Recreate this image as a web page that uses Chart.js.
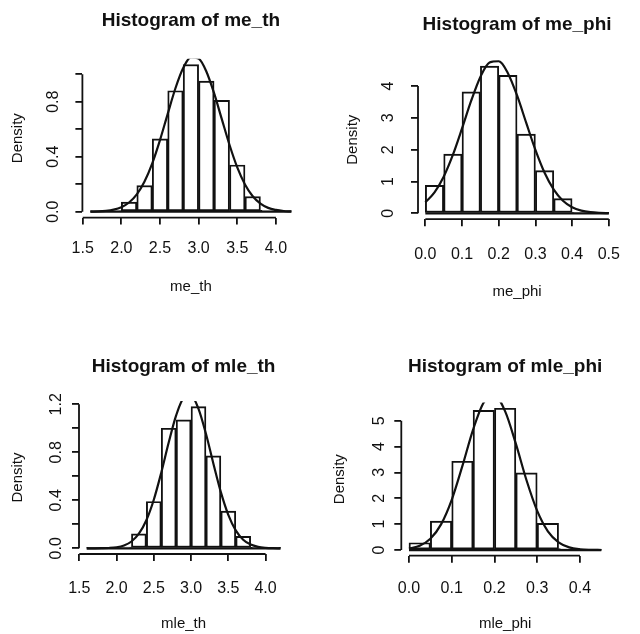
<!DOCTYPE html>
<html><head><meta charset="utf-8">
<script src="https://cdn.jsdelivr.net/npm/chart.js@4.4.1/dist/chart.umd.min.js"></script>
<style>
html,body{margin:0;padding:0;background:#fff;}
#wrap{position:relative;width:640px;height:634px;overflow:hidden;background:#fff;}
.cell{position:absolute;width:320px;height:317px;}
canvas{display:block;}
</style></head><body>
<div id="wrap">
<div class="cell" style="left:0;top:0"><canvas id="c1" width="320" height="317"></canvas></div>
<div class="cell" style="left:320px;top:0"><canvas id="c2" width="320" height="317"></canvas></div>
<div class="cell" style="left:0;top:317px"><canvas id="c3" width="320" height="317"></canvas></div>
<div class="cell" style="left:320px;top:317px"><canvas id="c4" width="320" height="317"></canvas></div>
</div>
<script>
// ---------- data: me_th ----------
const meThEdges   = [1.6,1.8,2.0,2.2,2.4,2.6,2.8,3.0,3.2,3.4,3.6,3.8,4.0,4.2];
const meThDensity = [0.004,0.004,0.07,0.19,0.53,0.88,1.07,0.95,0.81,0.34,0.11,0.01,0.004];
const meThCurveX  = [1.6,1.7,1.8,1.9,2.0,2.1,2.2,2.3,2.4,2.5,2.6,2.7,2.8,2.9,3.0,3.1,3.2,3.3,3.4,3.5,3.6,3.7,3.8,3.9,4.0,4.1,4.2];
const meThCurveY  = [0.001,0.002,0.006,0.015,0.033,0.067,0.126,0.220,0.352,0.521,0.712,0.898,1.045,1.123,1.114,1.020,0.862,0.673,0.485,0.322,0.198,0.112,0.059,0.028,0.013,0.005,0.002];
const meThXTicks  = [1.5,2.0,2.5,3.0,3.5,4.0];
const meThXLabels = ['1.5','2.0','2.5','3.0','3.5','4.0'];
const meThYTicks  = [0,0.2,0.4,0.6,0.8,1.0];
const meThYLabels = ['0.0','','0.4','','0.8',''];

// ---------- data: me_phi ----------
const mePhiEdges   = [0,0.05,0.1,0.15,0.2,0.25,0.3,0.35,0.4,0.45,0.5];
const mePhiDensity = [0.88,1.86,3.82,4.63,4.34,2.49,1.34,0.46,0.03,0.01];
const mePhiCurveX  = [0,0.025,0.05,0.075,0.1,0.125,0.15,0.175,0.2,0.225,0.25,0.275,0.3,0.325,0.35,0.375,0.4,0.425,0.45,0.475,0.5];
const mePhiCurveY  = [0.346,0.661,1.152,1.836,2.669,3.541,4.289,4.742,4.785,4.408,3.706,2.844,1.993,1.274,0.744,0.396,0.193,0.086,0.035,0.013,0.004];
const mePhiXTicks  = [0,0.1,0.2,0.3,0.4,0.5];
const mePhiXLabels = ['0.0','0.1','0.2','0.3','0.4','0.5'];
const mePhiYTicks  = [0,1,2,3,4];
const mePhiYLabels = ['0','1','2','3','4'];

// ---------- data: mle_th ----------
const mleThEdges   = [1.6,1.8,2.0,2.2,2.4,2.6,2.8,3.0,3.2,3.4,3.6,3.8,4.0,4.2];
const mleThDensity = [0.003,0.003,0.01,0.12,0.39,1.00,1.07,1.18,0.77,0.31,0.10,0.005,0.003];
const mleThCurveX  = [1.6,1.7,1.8,1.9,2.0,2.1,2.2,2.3,2.4,2.5,2.6,2.7,2.8,2.9,3.0,3.1,3.2,3.3,3.4,3.5,3.6,3.7,3.8,3.9,4.0,4.1,4.2];
const mleThCurveY  = [0.0001,0.0003,0.001,0.003,0.009,0.024,0.057,0.122,0.234,0.405,0.630,0.881,1.107,1.252,1.272,1.162,0.954,0.705,0.468,0.279,0.150,0.072,0.031,0.012,0.004,0.001,0.0003];
const mleThXTicks  = [1.5,2.0,2.5,3.0,3.5,4.0];
const mleThXLabels = ['1.5','2.0','2.5','3.0','3.5','4.0'];
const mleThYTicks  = [0,0.2,0.4,0.6,0.8,1.0,1.2];
const mleThYLabels = ['0.0','','0.4','','0.8','','1.2'];

// ---------- data: mle_phi ----------
const mlePhiEdges   = [0,0.05,0.1,0.15,0.2,0.25,0.3,0.35,0.4,0.45];
const mlePhiDensity = [0.28,1.12,3.43,5.40,5.48,2.98,1.03,0.06,0.01];
const mlePhiCurveX  = [0,0.025,0.05,0.075,0.1,0.125,0.15,0.175,0.2,0.225,0.25,0.275,0.3,0.325,0.35,0.375,0.4,0.425,0.45];
const mlePhiCurveY  = [0.052,0.162,0.433,0.992,1.942,3.252,4.658,5.707,5.981,5.362,4.111,2.696,1.512,0.725,0.298,0.104,0.031,0.008,0.002];
const mlePhiXTicks  = [0,0.1,0.2,0.3,0.4];
const mlePhiXLabels = ['0.0','0.1','0.2','0.3','0.4'];
const mlePhiYTicks  = [0,1,2,3,4,5];
const mlePhiYLabels = ['0','1','2','3','4','5'];

// ---------- styling / layout (not data) ----------
Chart.defaults.font.family = "'Liberation Sans', Arial, Helvetica, sans-serif";
Chart.defaults.color = '#111';
const INK = '#111';
const CANVAS_H = 317, CANVAS_W = 320;

const rAxes = {
  id: 'rAxes',
  afterDatasetsDraw(chart) {
    const p = chart.options.plugins.rAxes;
    const {ctx, chartArea, scales} = chart;
    const x = scales.x, y = scales.y;
    ctx.save();
    ctx.strokeStyle = INK;
    ctx.lineWidth = 1.8;
    ctx.beginPath();
    ctx.moveTo(x.getPixelForValue(p.xTicks[0]), chartArea.bottom);
    ctx.lineTo(x.getPixelForValue(p.xTicks[p.xTicks.length - 1]), chartArea.bottom);
    ctx.moveTo(chartArea.left, y.getPixelForValue(p.yTicks[0]));
    ctx.lineTo(chartArea.left, y.getPixelForValue(p.yTicks[p.yTicks.length - 1]));
    ctx.stroke();
    ctx.lineWidth = 2.2;
    ctx.beginPath();
    const y0 = y.getPixelForValue(0);
    ctx.moveTo(x.getPixelForValue(p.edges[0]), y0);
    ctx.lineTo(x.getPixelForValue(p.edges[p.edges.length - 1]), y0);
    ctx.stroke();
    ctx.restore();
  }
};

function makePanel(id, title, xName, edges, dens, cx, cy, xTicks, xLabels, yTicks, yLabels, L) {
  const xr = edges[edges.length - 1] - edges[0];
  const ymax = Math.max(...dens);
  const bars = dens.map((d, i) => ({x: (edges[i] + edges[i + 1]) / 2, y: d}));
  const curve = cx.map((v, i) => ({x: v, y: cy[i]}));
  const titleLH = 19 * 1.2;
  new Chart(document.getElementById(id), {
    type: 'bar',
    data: {
      datasets: [
        {type: 'line', data: curve, borderColor: INK, borderWidth: 2.2, pointRadius: 0,
         fill: false, cubicInterpolationMode: 'monotone', order: 0},
        {type: 'bar', data: bars, backgroundColor: '#fff', borderColor: INK, borderWidth: 1.9,
         borderSkipped: false, barPercentage: 1, categoryPercentage: 1, order: 1}
      ]
    },
    options: {
      responsive: false, animation: false, devicePixelRatio: 1, events: [],
      layout: {padding: {left: 0, right: CANVAS_W - L.right, top: 0, bottom: 0}},
      plugins: {
        legend: {display: false}, tooltip: {enabled: false},
        title: {display: true, text: title, fullSize: false, color: INK,
                font: {size: 19, weight: 'bold'},
                padding: {top: L.titleTop, bottom: L.top - L.titleTop - titleLH}},
        rAxes: {xTicks, yTicks, edges}
      },
      scales: {
        x: {
          type: 'linear', offset: false,
          min: edges[0] - 0.04 * xr, max: edges[edges.length - 1] + 0.04 * xr,
          afterBuildTicks: s => { s.ticks = xTicks.map(v => ({value: v})); },
          afterFit: s => { s.height = CANVAS_H - L.bottom; },
          grid: {offset: false, drawOnChartArea: false, drawTicks: true, tickLength: 7, color: INK, lineWidth: 1.8},
          border: {display: false},
          ticks: {autoSkip: false, maxRotation: 0, minRotation: 0, padding: L.xTickPad, color: INK,
                  font: {size: 16}, callback: (v, i) => xLabels[i]},
          title: {display: true, text: xName, color: INK, font: {size: 15}, padding: {top: 0, bottom: L.xTitlePad}}
        },
        y: {
          type: 'linear',
          min: -0.04 * ymax, max: 1.04 * ymax,
          afterBuildTicks: s => { s.ticks = yTicks.map(v => ({value: v})); },
          afterFit: s => { s.width = L.left; },
          grid: {drawOnChartArea: false, drawTicks: true, tickLength: 7, color: INK, lineWidth: 1.8},
          border: {display: false},
          ticks: {autoSkip: false, minRotation: 90, maxRotation: 90, crossAlign: 'center', padding: L.yTickPad,
                  color: INK, font: {size: 16}, callback: (v, i) => yLabels[i]},
          title: {display: true, text: 'Density', color: INK, font: {size: 15}, padding: {top: L.yTitlePad, bottom: 0}}
        }
      }
    },
    plugins: [rAxes]
  });
}

makePanel('c1', 'Histogram of me_th', 'me_th', meThEdges, meThDensity, meThCurveX, meThCurveY,
  meThXTicks, meThXLabels, meThYTicks, meThYLabels,
  {left: 82.4, right: 299.4, top: 58.7, bottom: 217.6, titleTop: 9.3, yTickPad: 11, xTickPad: 14.8, xTitlePad: 21, yTitlePad: 9.3});
makePanel('c2', 'Histogram of me_phi', 'me_phi', mePhiEdges, mePhiDensity, mePhiCurveX, mePhiCurveY,
  mePhiXTicks, mePhiXLabels, mePhiYTicks, mePhiYLabels,
  {left: 98, right: 315.4, top: 60.2, bottom: 219.2, titleTop: 13.6, yTickPad: 18.2, xTickPad: 19.2, xTitlePad: 16.3, yTitlePad: 24.3});
makePanel('c3', 'Histogram of mle_th', 'mle_th', mleThEdges, mleThDensity, mleThCurveX, mleThCurveY,
  mleThXTicks, mleThXLabels, mleThYTicks, mleThYLabels,
  {left: 79, right: 288.2, top: 84, bottom: 237, titleTop: 38.3, yTickPad: 4.2, xTickPad: 17.7, xTitlePad: 1.5, yTitlePad: 9.3});
makePanel('c4', 'Histogram of mle_phi', 'mle_phi', mlePhiEdges, mlePhiDensity, mlePhiCurveX, mlePhiCurveY,
  mlePhiXTicks, mlePhiXLabels, mlePhiYTicks, mlePhiYLabels,
  {left: 81.3, right: 289, top: 85.6, bottom: 238.7, titleTop: 38.3, yTickPad: 9.85, xTickPad: 16, xTitlePad: 1, yTitlePad: 11});
</script>
</body></html>
